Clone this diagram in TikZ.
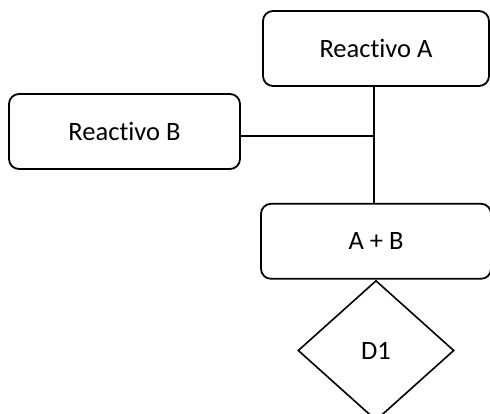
\documentclass[tikz,border=0pt]{standalone}
\usepackage{fontspec}
\setmainfont{Carlito}[Ligatures=NoCommon]
\usepackage{tikz}
\usetikzlibrary{shapes.geometric, positioning}
\tikzstyle{reactivo} = [rectangle, rounded corners=10pt, minimum width=226pt, minimum height=75pt, text centered, draw=black, line width=1.8pt, fill=white]
\tikzstyle{decision} = [diamond, minimum width=156pt, minimum height=140pt, inner sep=0pt, text centered, draw=black, line width=1.6pt, fill=white]
\tikzstyle{line} = [line width=2pt, black]

\begin{document}
\begin{tikzpicture}[x=1pt, y=1pt, font=\fontsize{26.5}{30}\selectfont]
		\useasboundingbox (0,0) rectangle (490,-414);
		\node (reacA) [reactivo] at (376,-48.5) {Reactivo A};
		\node (reacB) [reactivo, minimum width=231pt] at (124.5,-131.5) {Reactivo B};
		\node (suma) [reactivo, minimum width=230pt, below=116pt of reacA] {A + B};
		\node (d1) [decision, below=0pt of suma] {D1};
		
		\draw [line] ([xshift=-2pt]reacA.south) -- ([xshift=-2pt]suma.north);
		\draw [line] ([yshift=-4.5pt]reacB.east) -- ([yshift=-4.5pt,xshift=-2pt]reacB.east -| reacA.south);
	\end{tikzpicture}
\end{document}
